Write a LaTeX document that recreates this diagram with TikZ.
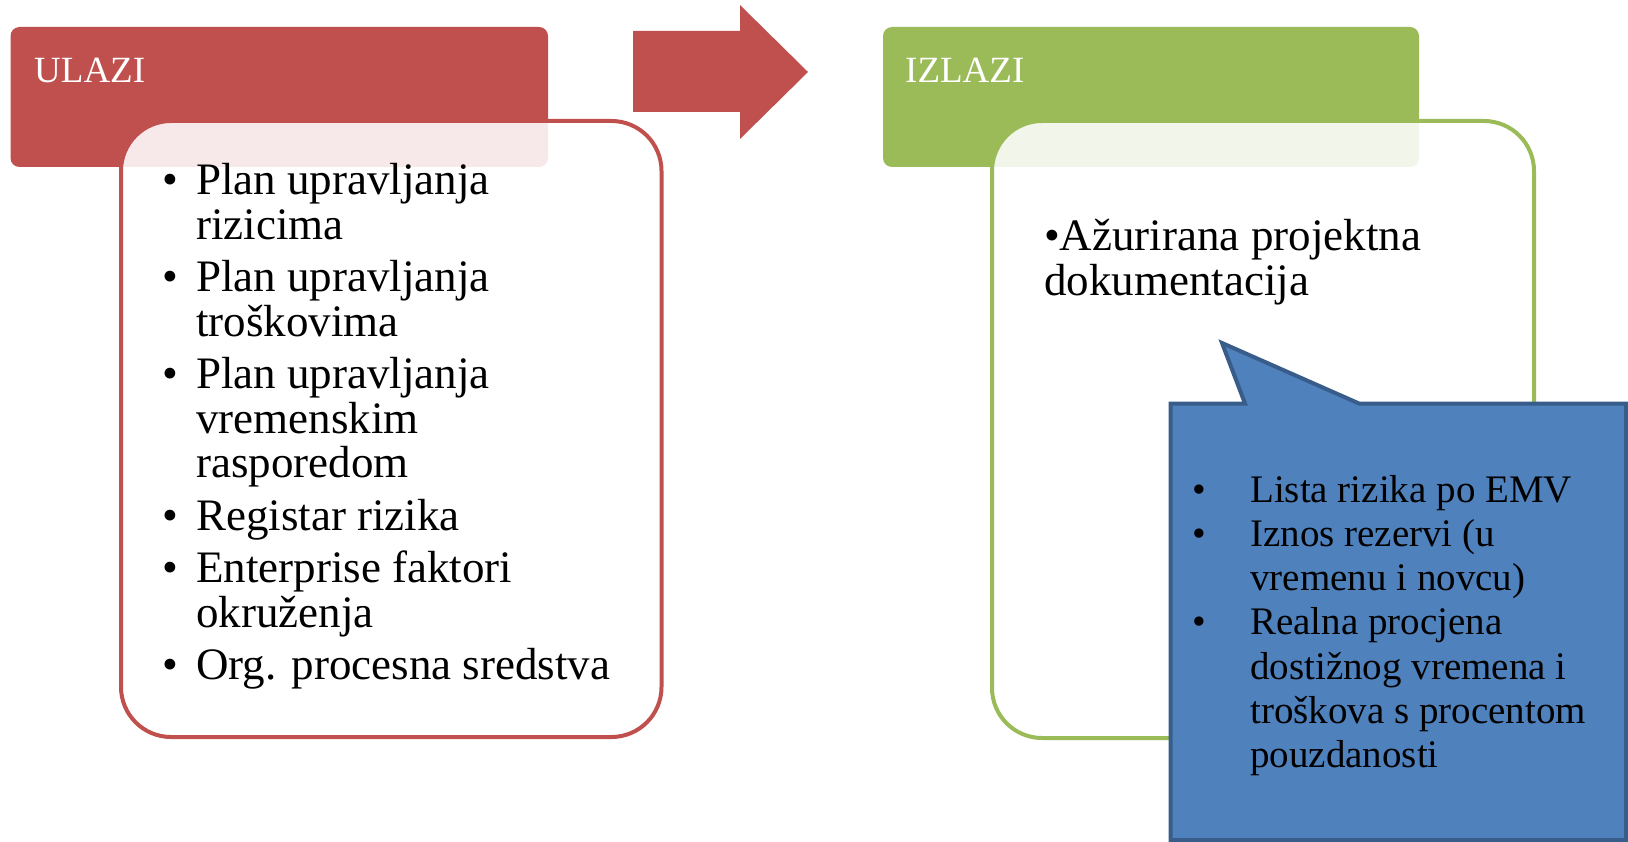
\documentclass[tikz,border=0pt]{standalone}
\usepackage{fontspec}
\setmainfont{Liberation Serif}
\definecolor{inred}{HTML}{C0504D}
\definecolor{outgreen}{HTML}{9BBB59}
\definecolor{notefill}{HTML}{4F81BD}
\definecolor{noteline}{HTML}{385D8A}
% body font of a given size, with the font's own word spacing
\newcommand\bodyfont[2]{\fontsize{#1}{#2}\selectfont\raggedright\spaceskip=0pt\xspaceskip=0pt\relax}
% list entry with a hanging bullet, closed by its own paragraph end
\newcommand\listentry[2]{\hangindent=#1\hangafter=1\noindent\makebox[#1][l]{•}#2\par}
\begin{document}
\begin{tikzpicture}[x=1pt,y=-1pt,
  header/.style={rounded corners=9pt},
  panel/.style={line width=4pt,rounded corners=50pt,fill=white,fill opacity=0.88},
  headtext/.style={anchor=base west,inner sep=0pt,text=white,font=\fontsize{37}{37}\selectfont},
  bodytext/.style={anchor=base west,inner sep=0pt,text=black}
]
\useasboundingbox (0,0) rectangle (1628,842);

% inputs
\fill[inred,header] (10.5,27) rectangle (548,167);
\path[panel,draw=inred] (121,121) rectangle (661.5,737);
\node[headtext] (inlabel) at (34,83) {ULAZI};
\node[bodytext,text width=470pt] (inlist) at (162,195) {%
  \bodyfont{45}{44.5}\setlength\parskip{8pt}%
  \listentry{34pt}{Plan upravljanja\newline rizicima}%
  \listentry{34pt}{Plan upravljanja\newline troškovima}%
  \listentry{34pt}{Plan upravljanja\newline vremenskim\newline rasporedom}%
  \listentry{34pt}{Registar rizika}%
  \listentry{34pt}{Enterprise faktori\newline okruženja}%
  \listentry{34pt}{Org. procesna sredstva}};

% flow arrow
\fill[inred] (633,31) -- (740,31) -- (740,5) -- (808,72) -- (740,139) -- (740,112) -- (633,112) -- cycle;

% outputs
\fill[outgreen,header] (883,27) rectangle (1419,167);
\path[panel,draw=outgreen] (992,121) rectangle (1534,738);
\node[headtext] (outlabel) at (905,83) {IZLAZI};
\node[bodytext,text width=470pt] (outlist) at (1044,251) {%
  \bodyfont{45}{45}•Ažurirana projektna\newline dokumentacija\par};

% callout
\path[fill=notefill,draw=noteline,line width=4pt,line join=miter]
  (1170.5,403.5) -- (1245,403.5) -- (1222,343) -- (1359,403.5) -- (1626,403.5)
  -- (1626,840) -- (1170.5,840) -- cycle;
\node[bodytext,text width=420pt] (notelist) at (1192,502) {%
  \bodyfont{39}{44.3}\setlength\parskip{0pt}%
  \listentry{58pt}{Lista rizika po EMV}%
  \listentry{58pt}{Iznos rezervi (u\newline vremenu i novcu)}%
  \listentry{58pt}{Realna procjena\newline dostižnog vremena i\newline troškova s procentom\newline pouzdanosti}};
\end{tikzpicture}
\end{document}
